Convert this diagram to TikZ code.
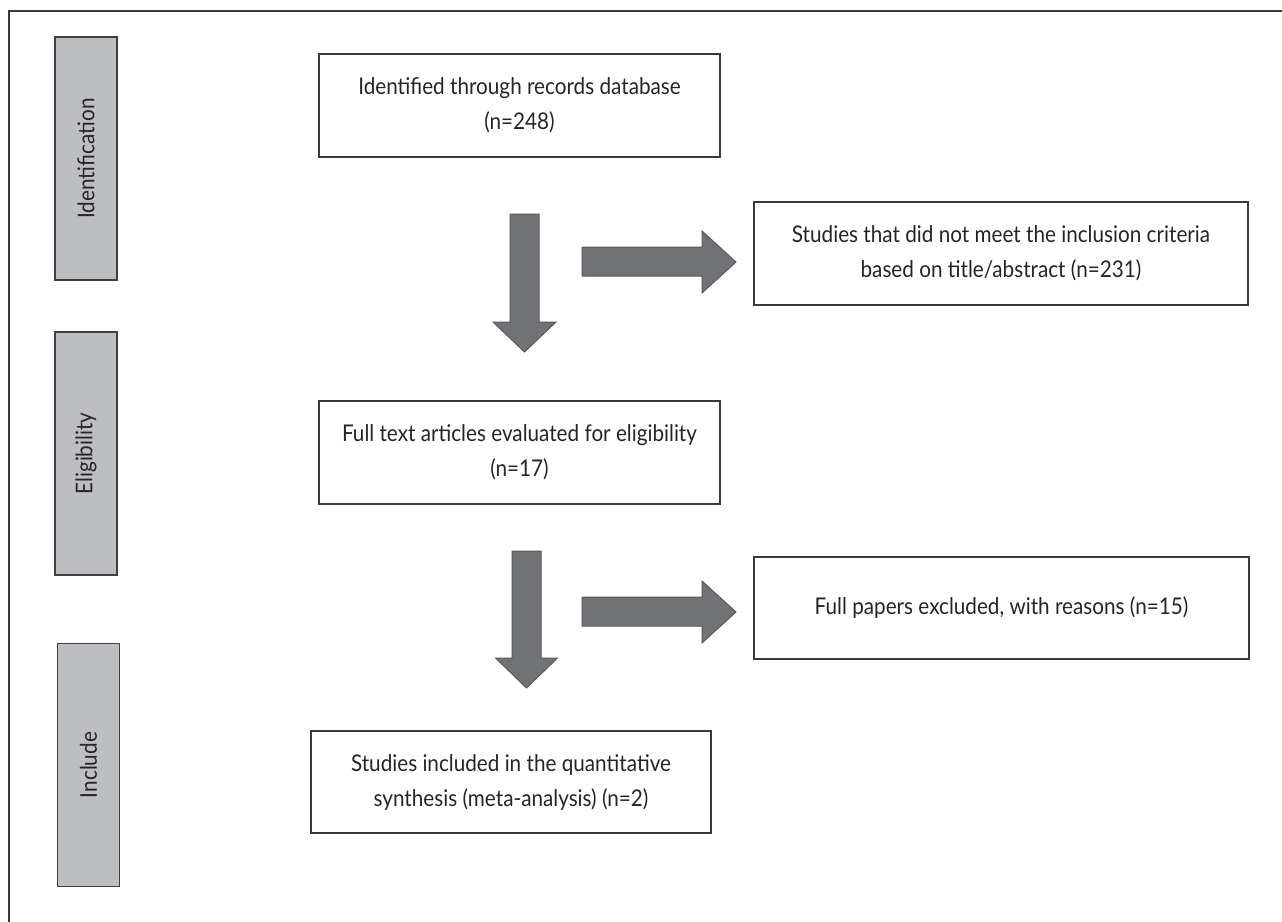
\documentclass[tikz,border=0pt]{standalone}
\usepackage{fontspec}
\setmainfont{Lato}[FakeStretch=0.9]
\definecolor{ink}{HTML}{262425}
\definecolor{boxline}{HTML}{3A3A3B}
\definecolor{barfill}{HTML}{BDBEC1}
\definecolor{barline}{HTML}{404041}
\definecolor{arrowfill}{HTML}{717275}
\definecolor{arrowline}{HTML}{58595B}
\begin{document}
\begin{tikzpicture}[x=0.5pt,y=-0.5pt]
\tikzstyle{frame}=[draw=boxline,line width=0.6pt]
\tikzstyle{phase}=[draw=barline,fill=barfill,line width=0.6pt,rotate=90,minimum width=121.5pt,minimum height=31pt,inner sep=0pt,text=ink,font=\fontsize{11.5}{14}\selectfont]
\tikzstyle{stepbox}=[draw=boxline,line width=0.75pt,align=center,minimum height=51.5pt,inner sep=0pt,text=ink,font=\fontsize{11.5}{17.5}\selectfont]
\tikzstyle{block}=[draw=arrowline,fill=arrowfill,line width=0.5pt,line join=miter]
\useasboundingbox (0,0) rectangle (1282,922);
% outer frame
\draw[frame] (1282,11) -- (9,11) -- (9,922);
% phases
\node[phase] (identification) at (86,158.5) {Identification};
\node[phase] (eligibility) at (86,453.5) {Eligibility};
\node[phase] (include) at (88.5,765) {Include};
% boxes
\node[stepbox,minimum width=200.5pt] (records) at (519.5,105.5) {Identified through records database\\(n=248)};
\node[stepbox,minimum width=247pt] (screened) at (1001,253.5) {Studies that did not meet the inclusion criteria\\based on title/abstract (n=231)};
\node[stepbox,minimum width=200.5pt] (fulltext) at (519.5,452.5) {Full text articles evaluated for eligibility\\(n=17)};
\node[stepbox,minimum width=247.5pt,minimum height=51pt] (excluded) at (1001.5,608) {Full papers excluded, with reasons (n=15)};
\node[stepbox,minimum width=200pt,minimum height=51pt] (included) at (511,782) {Studies included in the quantitative\\synthesis (meta-analysis) (n=2)};
% block arrows
\draw[block] (510,214) -- (539,214) -- (539,322) -- (556,322) -- (524.5,352) -- (493,322) -- (510,322) -- cycle;
\draw[block] (582,247) -- (702,247) -- (702,231) -- (736,262) -- (702,293) -- (702,276) -- (582,276) -- cycle;
\draw[block] (512,551) -- (541,551) -- (541,658) -- (557.5,658) -- (526.5,688) -- (495.5,658) -- (512,658) -- cycle;
\draw[block] (582,597) -- (702,597) -- (702,581) -- (736,612) -- (702,643) -- (702,626) -- (582,626) -- cycle;
\end{tikzpicture}
\end{document}
